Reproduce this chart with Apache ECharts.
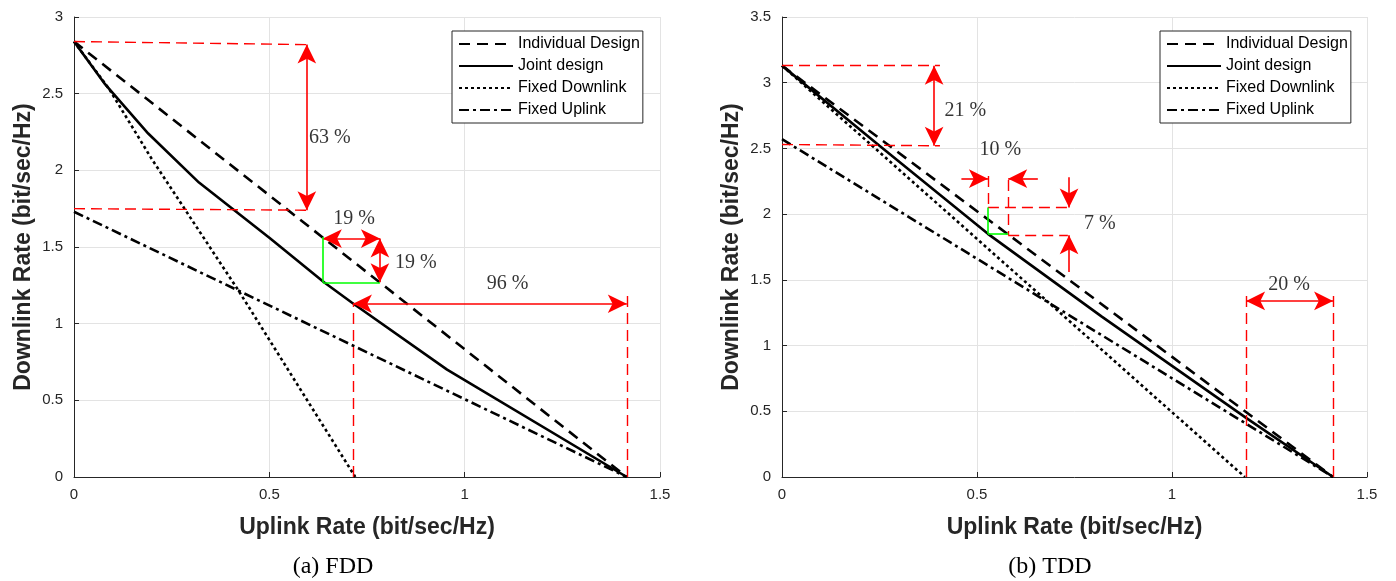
<!DOCTYPE html>
<html>
<head>
<meta charset="utf-8">
<script src="https://cdn.jsdelivr.net/npm/echarts@6/dist/echarts.min.js"></script>
<style>
  html, body { margin: 0; background: #fff; }
  #chart { width: 1396px; height: 581px; }
</style>
</head>
<body>
<div id="chart"></div>
<script>
const seriesNames = ['Individual Design', 'Joint design', 'Fixed Downlink', 'Fixed Uplink'];

// FDD panel, points are [uplink, downlink]
const fddIndividual = [[0, 2.84], [1.415, 0]];
const fddJoint = [[0, 2.84], [0.08, 2.56], [0.19, 2.24], [0.32, 1.92], [0.5, 1.56], [0.64, 1.27], [0.71, 1.14], [0.955, 0.70], [1.415, 0]];
const fddFixedDl = [[0, 2.84], [0.09, 2.53], [0.2, 2.07], [0.42, 1.22], [0.72, 0]];
const fddFixedUl = [[0, 1.73], [1.415, 0]];

// TDD panel
const tddIndividual = [[0, 3.13], [1.413, 0]];
const tddJoint = [[0, 3.13], [0.25, 2.52], [0.528, 1.85], [0.82, 1.22], [1.19, 0.45], [1.413, 0]];
const tddFixedDl = [[0, 3.13], [1.187, 0]];
const tddFixedUl = [[0, 2.57], [1.413, 0]];

// annotations: segments [x1, y1, x2, y2]
const fddGuides = [[0, 2.84, 0.595, 2.82], [0, 1.75, 0.6, 1.74], [0.714, 0, 0.714, 1.13], [1.415, 0, 1.415, 1.21]];
const fddDoubleArrows = [[0.596, 2.82, 0.596, 1.74], [0.637, 1.555, 0.783, 1.555], [0.783, 1.555, 0.783, 1.27], [0.714, 1.13, 1.415, 1.13]];
const fddGreen = [[0.637, 1.566, 0.637, 1.27], [0.637, 1.27, 0.783, 1.27]];
const fddNotes = [[0.655, 2.21, '63 %'], [0.717, 1.683, '19 %'], [0.875, 1.40, '19 %'], [1.11, 1.26, '96 %']];

const tddGuides = [[0, 3.13, 0.405, 3.13], [0, 2.53, 0.405, 2.52],
  [0.528, 2.29, 0.528, 2.05], [0.528, 2.05, 0.733, 2.05],
  [0.58, 2.26, 0.58, 1.84], [0.58, 1.84, 0.733, 1.84],
  [1.19, 0, 1.19, 1.40], [1.413, 0, 1.413, 1.40]];
const tddDoubleArrows = [[0.39, 3.13, 0.39, 2.52], [1.19, 1.34, 1.413, 1.34]];
const tddSingleArrows = [[0.46, 2.27, 0.528, 2.27], [0.656, 2.27, 0.58, 2.27], [0.736, 2.28, 0.736, 2.05], [0.736, 1.56, 0.736, 1.84]];
const tddGreen = [[0.528, 2.05, 0.528, 1.85], [0.528, 1.85, 0.58, 1.85]];
const tddNotes = [[0.47, 2.79, '21 %'], [0.56, 2.49, '10 %'], [0.815, 1.925, '7 %'], [1.30, 1.46, '20 %']];

const lineStyles = [
  { color: '#000', width: 2.6, type: [11, 7] },
  { color: '#000', width: 2.6, type: 'solid' },
  { color: '#000', width: 2.6, type: [3, 3] },
  { color: '#000', width: 2.6, type: [10, 4, 3, 4] },
];

const chart = echarts.init(document.getElementById('chart'));

function curveSeries(idx, sets) {
  return sets.map((d, i) => ({
    name: seriesNames[i],
    type: 'line',
    xAxisIndex: idx,
    yAxisIndex: idx,
    data: d,
    symbol: 'none',
    lineStyle: lineStyles[i],
    itemStyle: { color: '#000' },
    silent: true,
    z: 3,
  }));
}

function segLines(segs, startSym, endSym) {
  return segs.map((s) => [
    { coord: [s[0], s[1]], symbol: startSym },
    { coord: [s[2], s[3]], symbol: endSym },
  ]);
}

function annotationSeries(idx, guides, doubles, singles, green, notes) {
  const base = { type: 'line', xAxisIndex: idx, yAxisIndex: idx, data: [], silent: true, z: 4 };
  return [
    Object.assign({}, base, {
      name: 'guides' + idx,
      markLine: {
        silent: true, label: { show: false },
        lineStyle: { color: '#ff0000', width: 1.4, type: [11, 6] },
        emphasis: { disabled: true },
        data: segLines(guides, 'none', 'none'),
      },
    }),
    Object.assign({}, base, {
      name: 'arrows' + idx,
      markLine: {
        silent: true, label: { show: false }, symbolSize: [14, 19],
        lineStyle: { color: '#ff0000', width: 1.6, type: 'solid' },
        itemStyle: { color: '#ff0000' },
        emphasis: { disabled: true },
        data: segLines(doubles, 'arrow', 'arrow').concat(segLines(singles, 'none', 'arrow')),
      },
    }),
    Object.assign({}, base, {
      name: 'green' + idx,
      markLine: {
        silent: true, label: { show: false },
        lineStyle: { color: '#00ff00', width: 1.6, type: 'solid' },
        emphasis: { disabled: true },
        data: segLines(green, 'none', 'none'),
      },
    }),
    {
      name: 'notes' + idx,
      type: 'scatter',
      xAxisIndex: idx,
      yAxisIndex: idx,
      symbolSize: 0,
      silent: true,
      data: notes.map((n) => ({ value: [n[0], n[1]], name: n[2] })),
      label: {
        show: true, position: 'inside', formatter: '{b}',
        fontFamily: 'Liberation Serif', fontSize: 20, color: '#000',
      },
    },
  ];
}

const axisCommon = {
  type: 'value',
  axisLine: { show: true, onZero: false, lineStyle: { color: '#262626', width: 1 } },
  axisTick: { show: true, inside: true, length: 5, lineStyle: { color: '#262626' } },
  axisLabel: { fontFamily: 'Liberation Sans', fontSize: 15, color: '#262626' },
  splitLine: { show: true, lineStyle: { color: '#e3e3e3', width: 1 } },
  nameLocation: 'middle',
  nameTextStyle: { fontFamily: 'Liberation Sans', fontSize: 23, fontWeight: 'bold', color: '#262626' },
};

function xAx(idx) {
  return Object.assign({}, axisCommon, {
    gridIndex: idx, min: 0, max: 1.5, interval: 0.5,
    name: 'Uplink Rate (bit/sec/Hz)', nameGap: 39,
    axisLabel: Object.assign({}, axisCommon.axisLabel, { margin: 10 }),
  });
}

function yAx(idx, max) {
  return Object.assign({}, axisCommon, {
    gridIndex: idx, min: 0, max: max, interval: 0.5,
    name: 'Downlink Rate (bit/sec/Hz)', nameGap: 39,
    axisLabel: Object.assign({}, axisCommon.axisLabel, { margin: 11 }),
  });
}

function legendAt(left) {
  return {
    data: seriesNames,
    orient: 'vertical',
    left: left,
    top: 31,
    itemWidth: 54,
    itemHeight: 14,
    itemGap: 6,
    padding: [5, 3, 5, 6],
    borderColor: '#262626',
    borderWidth: 1,
    backgroundColor: '#fff',
    selectedMode: false,
    itemStyle: { opacity: 0 },
    textStyle: { fontFamily: 'Liberation Sans', fontSize: 16, color: '#000' },
  };
}

const option = {
  animation: false,
  backgroundColor: '#fff',
  grid: [
    { left: 74, top: 17, width: 586, height: 460 },
    { left: 782, top: 17, width: 585, height: 460 },
  ],
  xAxis: [xAx(0), xAx(1)],
  yAxis: [yAx(0, 3), yAx(1, 3.5)],
  legend: [legendAt(452), legendAt(1160)],
  series: [].concat(
    curveSeries(0, [fddIndividual, fddJoint, fddFixedDl, fddFixedUl]),
    curveSeries(1, [tddIndividual, tddJoint, tddFixedDl, tddFixedUl]),
    annotationSeries(0, fddGuides, fddDoubleArrows, [], fddGreen, fddNotes),
    annotationSeries(1, tddGuides, tddDoubleArrows, tddSingleArrows, tddGreen, tddNotes)
  ),
  graphic: [
    { type: 'text', x: 333, y: 567, style: { text: '(a) FDD', align: 'center', verticalAlign: 'middle', font: '24px "Liberation Serif"', fill: '#000' } },
    { type: 'text', x: 1050, y: 567, style: { text: '(b) TDD', align: 'center', verticalAlign: 'middle', font: '24px "Liberation Serif"', fill: '#000' } },
  ],
};

chart.setOption(option);
</script>
</body>
</html>
